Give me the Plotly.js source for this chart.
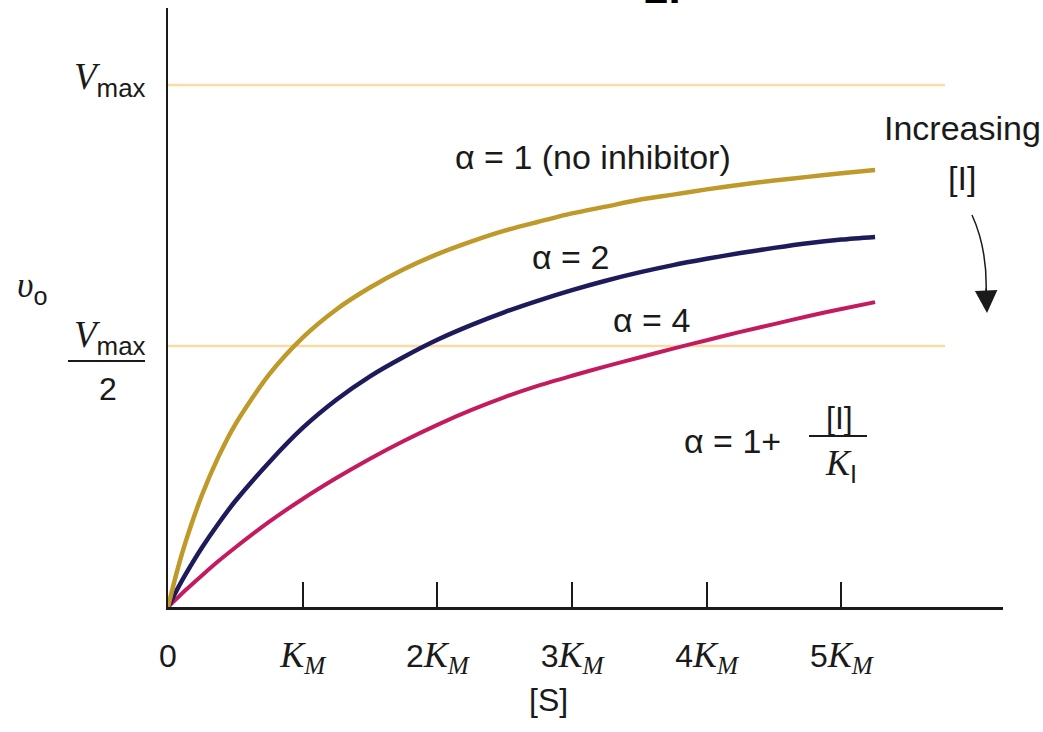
<!DOCTYPE html>
<html><head><meta charset="utf-8">
<script src="https://cdn.plot.ly/plotly-3.0.1.min.js"></script>
<style>html,body{margin:0;padding:0;background:#fff;overflow:hidden}</style>
</head><body>
<div id="chart" style="width:1043px;height:732px"></div>
<script>
// ---- data (x in units of K_M, v in units of Vmax) ----
const substrate = [0, 0.0625, 0.125, 0.25, 0.375, 0.5, 0.75, 1, 1.25, 1.5, 1.75, 2, 2.25, 2.5, 2.75, 3, 3.25, 3.5, 3.75, 4, 4.25, 4.5, 4.75, 5, 5.25];
const vAlpha1 = [0, 0.064, 0.12, 0.213, 0.288, 0.35, 0.445, 0.516, 0.57, 0.612, 0.647, 0.676, 0.70, 0.721, 0.738, 0.754, 0.767, 0.78, 0.79, 0.80, 0.809, 0.817, 0.824, 0.831, 0.837];
const vAlpha2 = [0, 0.031, 0.06, 0.113, 0.16, 0.203, 0.277, 0.343, 0.397, 0.442, 0.479, 0.512, 0.54, 0.565, 0.587, 0.607, 0.625, 0.641, 0.655, 0.667, 0.678, 0.688, 0.697, 0.704, 0.709];
const vAlpha4 = [0, 0.0155, 0.031, 0.06, 0.088, 0.114, 0.163, 0.207, 0.247, 0.284, 0.318, 0.349, 0.377, 0.402, 0.424, 0.443, 0.461, 0.478, 0.495, 0.511, 0.527, 0.542, 0.557, 0.571, 0.584];
const refX = [0, 5.77];
const vmaxLine = [1, 1];
const halfVmaxLine = [0.5, 0.5];
const tickVals = [0, 1, 2, 3, 4, 5];
const SANS = "Liberation Sans";
const SERIF = "Liberation Serif";
const km = "<i>K</i><sub><i>M</i></sub>";
const sansNum = n => `<span style="font-family:${SANS};font-size:32px">${n}</span>`;
const tickText = [sansNum("0"), km, sansNum("2") + km, sansNum("3") + km, sansNum("4") + km, sansNum("5") + km];
const labelAlpha1 = "α = 1 (no inhibitor)";
const labelAlpha2 = "α = 2";
const labelAlpha4 = "α = 4";

// ---- layout geometry ----
const W = 1043, H = 732, L = 168, R = 40, T = 8, B = 125;
const PW = W - L - R, PH = H - T - B;
const px = x => (x - L) / PW;          // pixel -> paper x
const py = y => (H - B - y) / PH;      // pixel -> paper y

const line = (x, y, color, width, spline) => ({
  x, y, type: "scatter", mode: "lines", hoverinfo: "skip", showlegend: false,
  line: {color, width, shape: spline ? "spline" : "linear", smoothing: 0.8}
});

const traces = [
  line(refX, vmaxLine, "#f9dba6", 2.5, false),
  line(refX, halfVmaxLine, "#f9dba6", 2.5, false),
  line(substrate, vAlpha4, "#c41a5e", 4, true),
  line(substrate, vAlpha2, "#1d1b5c", 4.5, true),
  line(substrate, vAlpha1, "#bf9a2a", 4.5, true)
];

const ann = (x, y, text, size, family, extra) => Object.assign({
  xref: "paper", yref: "paper", x: px(x), y: py(y), text, showarrow: false,
  font: {size, family, color: "#1a1a1a"}, xanchor: "center", yanchor: "middle"
}, extra || {});

const annotations = [
  ann(593, 157, labelAlpha1, 34, SANS),
  ann(570, 257, labelAlpha2, 34, SANS),
  ann(651, 320, labelAlpha4, 34, SANS),
  ann(962, 128, "Increasing", 34, SANS),
  ann(962, 178, "[I]", 34, SANS),
  ann(732, 441, "α = 1+", 34, SANS),
  ann(839, 418, "[I]", 32, SANS),
  ann(841, 465, "<i>K</i><sub><span style=\"font-family:" + SANS + ";font-style:normal\">I</span></sub>", 36, SERIF),
  ann(110, 79, "<i>V</i><sub><span style=\"font-family:" + SANS + "\">max</span></sub>", 37, SERIF),
  ann(110, 337, "<i>V</i><sub><span style=\"font-family:" + SANS + "\">max</span></sub>", 37, SERIF),
  ann(108, 389, "2", 32, SANS),
  ann(32, 287, "<i>υ</i><sub><span style=\"font-family:" + SANS + ";font-style:normal\">o</span></sub>", 36, SERIF),
  ann(548, 700, "[S]", 32, SANS),
  ann(662, 14, "<b>2.</b>", 44, SANS, {yanchor: "bottom", font: {size: 44, family: SANS, color: "#000"}}),
  // arrowhead of the curved "increasing [I]" arrow
  {xref: "paper", yref: "paper", x: px(987), y: py(313), ax: -1, ay: -26, text: "",
   showarrow: true, arrowhead: 2, arrowsize: 3, arrowwidth: 1.5, arrowcolor: "#1a1a1a"}
];

const p = (x, y) => `${px(x)},${py(y)}`;
const shapes = [
  {type: "line", xref: "paper", yref: "paper", x0: px(68), x1: px(145), y0: py(361), y1: py(361),
   line: {color: "#1a1a1a", width: 2}},
  {type: "line", xref: "paper", yref: "paper", x0: px(809), x1: px(867), y0: py(436), y1: py(436),
   line: {color: "#1a1a1a", width: 2}},
  {type: "path", xref: "paper", yref: "paper",
   path: `M${p(972, 215)} Q${p(988, 250)} ${p(986, 296)}`,
   line: {color: "#1a1a1a", width: 1.5}}
];

const layout = {
  width: W, height: H,
  margin: {l: L, r: R, t: T, b: B},
  paper_bgcolor: "#ffffff", plot_bgcolor: "#ffffff",
  showlegend: false,
  xaxis: {
    range: [0, 6.2], showgrid: false, zeroline: false,
    showline: true, linecolor: "#1a1a1a", linewidth: 2.5,
    tickmode: "array", tickvals: tickVals, ticktext: tickText,
    ticks: "inside", ticklen: 25, tickwidth: 2, tickcolor: "#1a1a1a",
    ticklabelstandoff: 14,
    tickfont: {family: SERIF, size: 36, color: "#1a1a1a"}
  },
  yaxis: {
    range: [0, PH / 522], showgrid: false, zeroline: false,
    showline: true, linecolor: "#1a1a1a", linewidth: 2.5,
    showticklabels: false, ticks: ""
  },
  annotations, shapes
};

Plotly.newPlot("chart", traces, layout, {displayModeBar: false, staticPlot: true});
</script>
</body></html>
